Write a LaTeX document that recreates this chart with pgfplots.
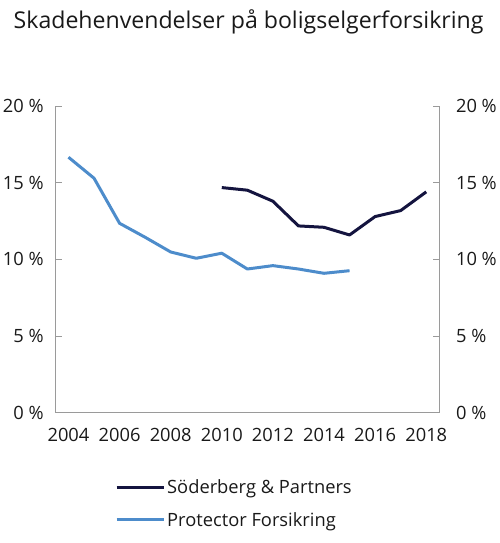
\documentclass[border=0pt]{standalone}
\usepackage{fontspec}
\setmainfont{Open Sans}
\usepackage{pgfplots}
\pgfplotsset{compat=1.18}
\definecolor{navy}{HTML}{14143F}
\definecolor{lblue}{HTML}{4D8CCB}
\definecolor{axgray}{HTML}{9A9A9A}
\begin{document}
\begin{tikzpicture}
\useasboundingbox (0pt,0pt) rectangle (500pt,543pt);
\node[anchor=base west, inner sep=0pt, font=\fontsize{23.1}{26}\selectfont, text=black!90] at (13.5pt,514.7pt) {Skadehenvendelser på boligselgerforsikring};
\pgfplotsset{common/.style={
  at={(55.7pt,130.3pt)}, anchor=south west, scale only axis,
  width=383.3pt, height=306.7pt,
  xmin=2003.5, xmax=2018.5, ymin=0, ymax=20,
  ytick={0,5,10,15,20},
  xtick={2004,2006,...,2018},
  /pgf/number format/assume math mode=true,
  /pgf/number format/1000 sep={},
  tick label style={font=\fontsize{18.3}{21}\selectfont, text=black!90},
  yticklabel={\pgfmathprintnumber{\tick} \%},
  axis line style={axgray, line width=0.9pt},
  major tick style={axgray, line width=0.9pt},
  tick align=inside, major tick length=6pt,
}}
\begin{axis}[common,
  axis x line*=bottom, axis y line*=left,
  x tick style={draw=none},
  xticklabel style={yshift=-12pt},
  yticklabel style={xshift=-8.5pt},
  legend style={at={(0.1547,-0.21)}, anchor=north west, draw=none, fill=none,
    font=\fontsize{18.3}{21}\selectfont, text=black!90,
    row sep=13.5pt, inner sep=0pt},
  legend cell align=left,
  legend image code/.code={\draw[#1] (0pt,0pt) -- (47pt,0pt);},
]
\addplot[navy, line width=3pt, line join=round] coordinates {
(2010,14.68) (2011,14.51) (2012,13.79) (2013,12.18) (2014,12.09) (2015,11.59) (2016,12.79) (2017,13.18) (2018,14.40)};
\addlegendentry{Söderberg \& Partners}
\addplot[lblue, line width=3pt, line join=round] coordinates {
(2004,16.66) (2005,15.29) (2006,12.35) (2007,11.44) (2008,10.48) (2009,10.07) (2010,10.40) (2011,9.37) (2012,9.59) (2013,9.37) (2014,9.09) (2015,9.26)};
\addlegendentry{Protector Forsikring}
\end{axis}
\begin{axis}[common,
  axis x line=none, axis y line*=right,
  yticklabel style={xshift=13.5pt},
]
\end{axis}
\end{tikzpicture}
\end{document}
